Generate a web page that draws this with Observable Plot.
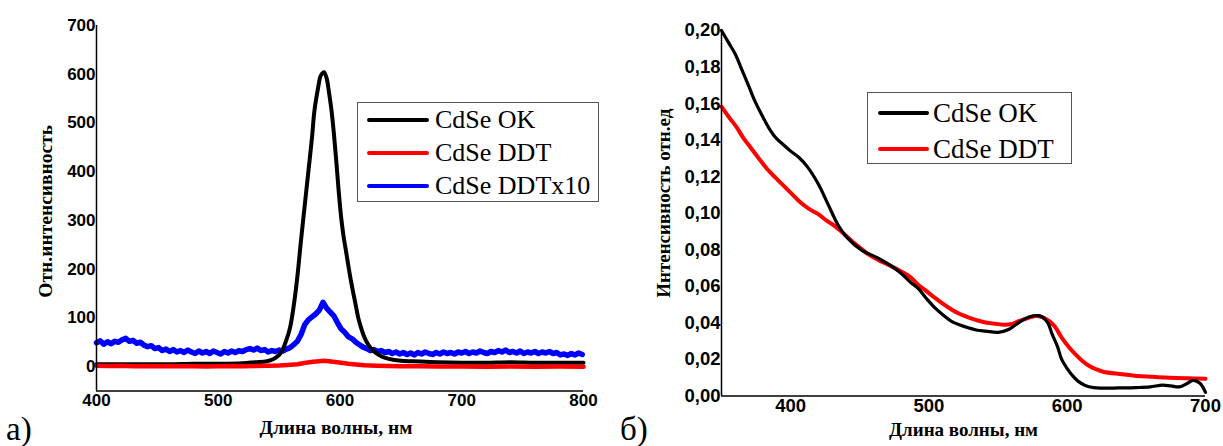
<!DOCTYPE html>
<html>
<head>
<meta charset="utf-8">
<script src="https://cdn.jsdelivr.net/npm/d3@7"></script>
<script src="https://cdn.jsdelivr.net/npm/@observablehq/plot@0.6"></script>
<style>
  html, body { margin: 0; padding: 0; background: #fff; }
  #wrap { position: relative; width: 1223px; height: 446px; overflow: hidden; background: #fff; }
  .panel { position: absolute; top: 0; }
  .tag { position: absolute; font-family: "Liberation Serif", "Times New Roman", serif; font-size: 33px; color: #000; line-height: 1; }
  .legend { position: absolute; border: 1.5px solid #555; background: #fff; box-sizing: border-box; }
</style>
</head>
<body>
<div id="wrap">
  <div id="pa" class="panel" style="left:0"></div>
  <div id="pb" class="panel" style="left:610px"></div>
  <div class="tag" style="left:6px; top:413px">а)</div>
  <div class="tag" style="left:620px; top:413px">б)</div>
  <div id="legA" class="legend" style="left:357px; top:102px; width:242px; height:100px"></div>
  <div id="legB" class="legend" style="left:867px; top:92px; width:205px; height:72px"></div>
</div>
<script>
// ---------- Panel a) : photoluminescence ----------
const seriesA = ["CdSe OK", "CdSe DDT", "CdSe DDTx10"];
const colorsA = ["#000000", "#ff0000", "#0000ff"];

const okWl = [400,420,440,460,480,500,520,530,540,545,550,553,556,559,562,565,568,571,574,577,579,582,584,586,587,589,591,593,595,597,599,601,603,605,607,609,611,613,615,617,619,621,623,626,630,635,640,650,660,680,700,720,740,760,780,800];
const okVal = [5,5,5,5,6,6,7,9,11,15,24,36,55,80,125,185,260,330,400,470,525,572,596,603,604,592,562,526,478,420,358,305,266,236,205,176,150,125,100,82,67,55,46,36,27,20,16,12,11,9,8,8,9,8,8,8];

const ddtWl = [400,410,420,430,440,450,460,470,480,490,500,510,520,530,540,550,557,565,572,578,583,587,591,596,601,607,613,620,630,640,650,665,680,700,720,740,760,780,800];
const ddtVal = [2,1.5,2,1,1.5,1,1.5,1,1,0.5,1,1.5,1,1.5,2,2.5,3.5,5,8,10,11,12,11,9.5,8,6,4.5,3,2,1.5,1,1,0.5,0.5,0,0.5,0,0.5,0];

const x10Wl = [400,403,406,409,412,415,418,421,424,427,430,433,436,439,442,445,448,451,454,457,460,463,466,469,472,475,478,481,484,487,490,493,496,499,502,505,508,511,514,517,520,523,526,529,532,535,538,541,544,547,550,553,556,559,562,565,568,571,574,577,580,583,586,589,592,595,598,601,604,607,610,613,616,619,622,625,628,631,634,637,640,643,646,649,652,655,658,661,664,667,670,673,676,679,682,685,688,691,694,697,700,703,706,709,712,715,718,721,724,727,730,733,736,739,742,745,748,751,754,757,760,763,766,769,772,775,778,781,784,787,790,793,796,799];
const x10Val = [49,53,46,51,47,52,50,55,58,52,54,48,50,44,41,43,37,39,33,36,31,35,30,33,29,34,30,27,32,28,31,27,32,29,26,31,28,32,29,33,31,35,37,34,38,33,35,30,33,31,34,32,36,39,45,52,66,86,96,102,108,116,132,120,112,104,90,77,70,61,57,50,45,40,37,33,35,31,33,29,31,27,30,26,29,25,28,24,29,26,30,27,25,29,26,30,27,29,26,30,28,31,27,30,28,32,29,27,31,29,33,30,34,29,31,28,32,27,30,28,31,27,30,28,31,27,29,24,26,23,27,24,28,25];

const xTicksA = [400, 500, 600, 700, 800];
const yTicksA = [0, 100, 200, 300, 400, 500, 600, 700];

// ---------- Panel б) : absorption ----------
const seriesB = ["CdSe OK", "CdSe DDT"];
const colorsB = ["#000000", "#ff0000"];

const absOkWl = [350,355,360,365,370,374,379,384,389,394,400,406,412,420,427,434,441,451,463,475,480,487,492,498,504,510,516,522,529,535,541,550,558,565,570,575,579,582,586,589,593,596,600,604,608,613,619,625,637,650,660,669,675,681,687,691,696,700];
const absOkVal = [0.200,0.1935,0.187,0.178,0.169,0.1616,0.154,0.147,0.1415,0.138,0.134,0.1305,0.1255,0.116,0.105,0.094,0.0865,0.080,0.0755,0.0700,0.0670,0.0620,0.0590,0.0535,0.0485,0.0445,0.0410,0.0390,0.0372,0.0360,0.0355,0.0348,0.0365,0.0402,0.0425,0.0438,0.0440,0.0432,0.0400,0.0340,0.0270,0.0200,0.0150,0.0110,0.0080,0.0058,0.0046,0.0043,0.0044,0.0046,0.0050,0.0060,0.0055,0.0050,0.0070,0.0086,0.0070,0.0020];

const absDdtWl = [350,356,361,366,371,377,383,389,395,401,407,413,420,426,432,438,444,450,456,463,470,479,487,492,498,504,510,516,522,529,535,541,548,555,560,565,571,577,582,587,591,596,601,606,611,616,621,626,638,650,662,674,687,700];
const absDdtVal = [0.1584,0.152,0.147,0.141,0.136,0.130,0.1242,0.1195,0.115,0.1105,0.106,0.1025,0.0995,0.0960,0.0930,0.0890,0.0850,0.0812,0.0776,0.0745,0.0720,0.0685,0.0648,0.0610,0.0575,0.0539,0.0505,0.0475,0.0450,0.0429,0.0414,0.0402,0.0395,0.0390,0.0395,0.0410,0.0425,0.0438,0.0432,0.0410,0.0380,0.0320,0.0270,0.0228,0.0192,0.0164,0.0146,0.0133,0.0120,0.0110,0.0105,0.0100,0.0097,0.0095];

const xTicksB = [400, 500, 600, 700];
const yTicksB = [0, 0.02, 0.04, 0.06, 0.08, 0.10, 0.12, 0.14, 0.16, 0.18, 0.20];
const yTickLabelsB = ["0,00","0,02","0,04","0,06","0,08","0,10","0,12","0,14","0,16","0,18","0,20"];

const titleA_y = "Отн.интенсивность";
const titleB_y = "Интенсивность отн.ед";
const titleX = "Длина волны, нм";

// build tidy rows
function rows(wl, val, s) { return wl.map((w, i) => ({wl: w, v: val[i], s})); }
const dataA = [...rows(okWl, okVal, seriesA[0]), ...rows(ddtWl, ddtVal, seriesA[1]), ...rows(x10Wl, x10Val, seriesA[2])];
const dataB = [...rows(absOkWl, absOkVal, seriesB[0]), ...rows(absDdtWl, absDdtVal, seriesB[1])];

const SERIF = "'Liberation Serif', 'Times New Roman', serif";
const SANS = "'Liberation Sans', Arial, sans-serif";
const tickFont = {fontFamily: SANS, fontWeight: "bold"};
const titleFont = {fontFamily: SERIF, fontWeight: "bold"};

const plotA = Plot.plot({
  width: 610, height: 446,
  marginLeft: 96, marginRight: 27, marginTop: 25, marginBottom: 55.5,
  style: {background: "transparent", color: "#000", fontFamily: SANS, fontWeight: "bold", fontSize: "17px"},
  x: {domain: [400, 800]},
  y: {domain: [-50, 700]},
  color: {domain: seriesA, range: colorsA},
  marks: [
    Plot.line(dataA.filter(d => d.s === seriesA[2]), {x: "wl", y: "v", stroke: "s", strokeWidth: 5.5, curve: "linear", strokeLinejoin: "round"}),
    Plot.line(dataA.filter(d => d.s === seriesA[0]), {x: "wl", y: "v", stroke: "s", strokeWidth: 4, curve: "catmull-rom"}),
    Plot.line(dataA.filter(d => d.s === seriesA[1]), {x: "wl", y: "v", stroke: "s", strokeWidth: 4.5, curve: "linear", strokeLinejoin: "round"}),
    Plot.ruleX([400], {stroke: "#000", strokeWidth: 1.5}),
    Plot.ruleY([-50], {stroke: "#000", strokeWidth: 1.5}),
    Plot.axisX({ticks: xTicksA, tickSize: 0, tickPadding: 3, label: null, fontSize: 17, ...tickFont}),
    Plot.axisY({ticks: yTicksA, tickSize: 0, tickPadding: 1, label: null, fontSize: 17, ...tickFont}),
    Plot.text([titleA_y], {frameAnchor: "left", dx: -51, dy: 3, rotate: -90, textAnchor: "middle", lineAnchor: "middle", fontSize: 19.5, ...titleFont}),
    Plot.text([titleX], {frameAnchor: "bottom", dx: -4, dy: 37, textAnchor: "middle", lineAnchor: "middle", fontSize: 19.5, ...titleFont})
  ]
});
document.getElementById("pa").appendChild(plotA);

const plotB = Plot.plot({
  width: 613, height: 446,
  marginLeft: 111, marginRight: 18, marginTop: 30, marginBottom: 50.5,
  style: {background: "transparent", color: "#000", fontFamily: SANS, fontWeight: "bold", fontSize: "18px"},
  x: {domain: [350, 700]},
  y: {domain: [0, 0.2]},
  color: {domain: seriesB, range: colorsB},
  marks: [
    Plot.line(dataB.filter(d => d.s === seriesB[1]), {x: "wl", y: "v", stroke: "s", strokeWidth: 4, curve: "catmull-rom"}),
    Plot.line(dataB.filter(d => d.s === seriesB[0]), {x: "wl", y: "v", stroke: "s", strokeWidth: 3.2, curve: "catmull-rom"}),
    Plot.ruleX([350], {stroke: "#000", strokeWidth: 1.5}),
    Plot.ruleY([0], {stroke: "#000", strokeWidth: 1.5}),
    Plot.axisX({ticks: xTicksB, tickSize: 0, tickPadding: 3, label: null, fontSize: 18.5, ...tickFont}),
    Plot.axisY({ticks: yTicksB, tickFormat: (d) => yTickLabelsB[yTicksB.findIndex(t => Math.abs(t - d) < 1e-9)], tickSize: 0, tickPadding: 1, label: null, fontSize: 18.5, ...tickFont}),
    Plot.text([titleB_y], {frameAnchor: "left", dx: -58, dy: -10, rotate: -90, textAnchor: "middle", lineAnchor: "middle", fontSize: 19, ...titleFont}),
    Plot.text([titleX], {frameAnchor: "bottom", dx: 0, dy: 34, textAnchor: "middle", lineAnchor: "middle", fontSize: 19, ...titleFont})
  ]
});
document.getElementById("pb").appendChild(plotB);

// legends (HTML)
function legend(el, names, colors, opt) {
  names.forEach((n, i) => {
    const r = document.createElement("div");
    r.style.position = "absolute";
    r.style.display = "flex";
    r.style.alignItems = "center";
    r.style.whiteSpace = "nowrap";
    r.style.fontFamily = SERIF;
    r.style.color = "#000";
    r.style.left = opt.left + "px";
    r.style.top = (opt.top + i * opt.step) + "px";
    r.style.height = opt.rowH + "px";
    r.style.fontSize = opt.fs + "px";
    const sw = document.createElement("span");
    sw.style.display = "inline-block";
    sw.style.borderRadius = "3px";
    sw.style.width = opt.swW + "px";
    sw.style.height = opt.swH + "px";
    sw.style.background = colors[i];
    sw.style.marginRight = opt.gap + "px";
    const t = document.createElement("span");
    t.style.fontFamily = SERIF;
    t.textContent = n;
    r.appendChild(sw); r.appendChild(t);
    el.appendChild(r);
  });
}
legend(document.getElementById("legA"), seriesA, colorsA, {left: 9, top: 2, step: 33, rowH: 30, fs: 26, swW: 62, swH: 4.5, gap: 6});
legend(document.getElementById("legB"), seriesB, colorsB, {left: 10, top: 5, step: 36, rowH: 30, fs: 27, swW: 51, swH: 4.5, gap: 4});
</script>
</body>
</html>
